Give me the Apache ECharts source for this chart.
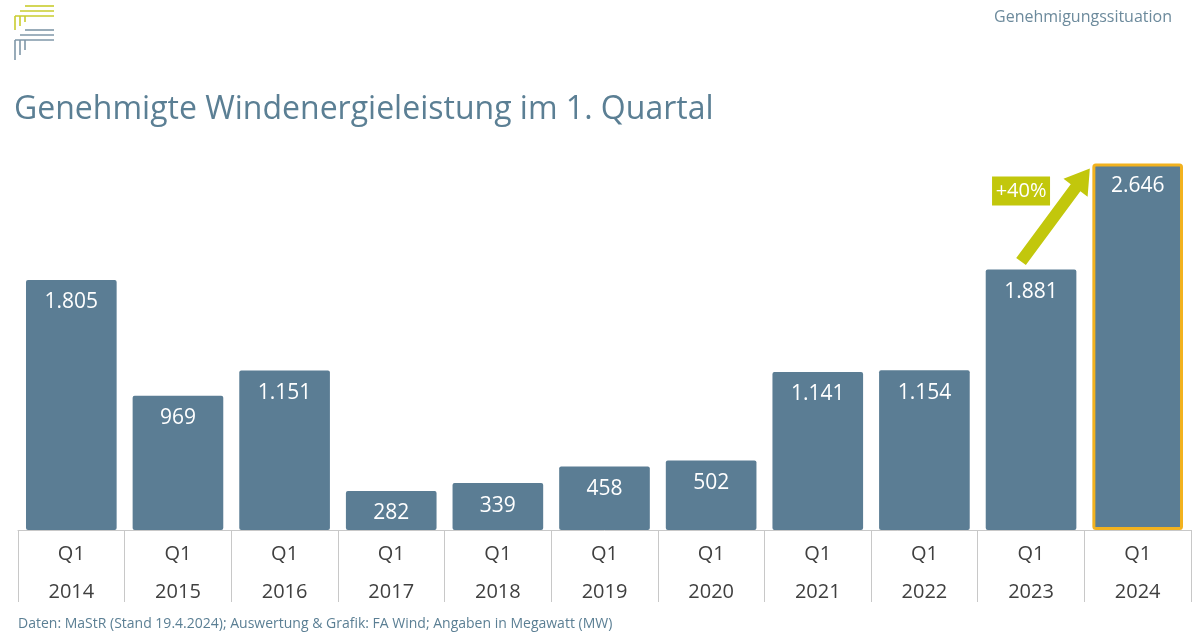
<!DOCTYPE html>
<html>
<head>
<meta charset="utf-8">
<script src="https://cdn.jsdelivr.net/npm/echarts@6/dist/echarts.min.js"></script>
<style>
html,body{margin:0;padding:0;background:#fff;}
#c{width:1200px;height:634px;}
</style>
</head>
<body>
<div id="c"></div>
<script>
const quarters = ['Q1','Q1','Q1','Q1','Q1','Q1','Q1','Q1','Q1','Q1','Q1'];
const years = ['2014','2015','2016','2017','2018','2019','2020','2021','2022','2023','2024'];
const values = [1805, 969, 1151, 282, 339, 458, 502, 1141, 1154, 1881, 2646];
const highlightYear = '2024';
const changeLabel = '+40%';

const categories = years.map((y, i) => quarters[i] + '\n' + y);
const fmt = v => String(v).replace(/\B(?=(\d{3})+(?!\d))/g, '.');

const barColor = '#5b7d94';
const data = values.map((v, i) => years[i] === highlightYear
  ? {value: v, itemStyle: {color: barColor, borderColor: '#f2b21f', borderWidth: 3}}
  : v);

const chart = echarts.init(document.getElementById('c'));
const font = 'Open Sans, Lato, sans-serif';

function logoLines() {
  const yel = '#c9cc2e', blu = '#7f97a8';
  const L = [];
  const seg = (x1,y1,x2,y2,c) => L.push({type:'line', shape:{x1,y1,x2,y2}, style:{stroke:c, lineWidth:1.6}, silent:true});
  // yellow
  seg(25,6,54,6,yel); seg(20,11,54,11,yel); seg(15,16,54,16,yel);
  seg(15,16,15,30,yel); seg(20,16,20,26,yel); seg(25,16,25,22,yel);
  // blue
  seg(25,30,54,30,blu); seg(20,35,54,35,blu); seg(15,40,54,40,blu);
  seg(15,40,15,60,blu); seg(20,40,20,55,blu); seg(25,40,25,50,blu);
  return L;
}

chart.setOption({
  animation: false,
  textStyle: {fontFamily: font},
  title: [
    {text: 'Genehmigte Windenergieleistung im 1. Quartal', left: 9, top: 89,
     textStyle: {fontSize: 32, fontWeight: 'normal', color: '#5b7f94', fontFamily: font}},
    {text: 'Genehmigungssituation', right: 23, top: 4,
     textStyle: {fontSize: 16, fontWeight: 'normal', color: '#6c8a9c', fontFamily: font}},
    {text: 'Daten: MaStR (Stand 19.4.2024); Auswertung & Grafik: FA Wind; Angaben in Megawatt (MW)', left: 13, top: 612,
     textStyle: {fontSize: 14, fontWeight: 'normal', color: '#5b7f94', fontFamily: font}}
  ],
  grid: {left: 18, right: 9, top: 156, bottom: 104, containLabel: false},
  xAxis: {
    type: 'category',
    data: categories,
    axisLine: {show: true, lineStyle: {color: '#c8c8c8', width: 1}},
    axisTick: {show: true, interval: 0, length: 72, lineStyle: {color: '#c8c8c8', width: 1}},
    axisLabel: {interval: 0, color: '#404040', fontSize: 20, lineHeight: 38, margin: 5, fontFamily: font}
  },
  yAxis: {type: 'value', min: 0, max: 2700, show: false, splitLine: {show: false}},
  series: [{
    type: 'bar',
    data: data,
    barWidth: '85%',
    itemStyle: {color: barColor, borderRadius: 2},
    label: {show: true, position: 'insideTop', distance: 12, color: '#ffffff', fontSize: 21,
            fontFamily: font, formatter: p => fmt(p.value)}
  }],
  graphic: logoLines()
});

// Arrow annotation, positioned from data via the chart's scales
const iFrom = years.length - 2, iTo = years.length - 1;
const pFrom = chart.convertToPixel({seriesIndex: 0}, [iFrom, values[iFrom]]);
const pTo = chart.convertToPixel({seriesIndex: 0}, [iTo, values[iTo]]);
const bandW = chart.convertToPixel({xAxisIndex: 0}, iTo) - chart.convertToPixel({xAxisIndex: 0}, iFrom);
const sx = pFrom[0] - 10, sy = pFrom[1] - 8;
const ex = pTo[0] - bandW * 0.43 - 2, ey = pTo[1] + 5;
const dx = ex - sx, dy = ey - sy, len = Math.hypot(dx, dy);
const ux = dx / len, uy = dy / len, nx = -uy, ny = ux;
const hw = 6, headW = 15, headL = 24;
const bx = ex - ux * headL, by = ey - uy * headL;
const pts = [
  [sx + nx*hw, sy + ny*hw], [bx + nx*hw, by + ny*hw], [bx + nx*headW, by + ny*headW],
  [ex, ey], [bx - nx*headW, by - ny*headW], [bx - nx*hw, by - ny*hw], [sx - nx*hw, sy - ny*hw]
];
const arrowColor = '#c2c70c';
const lx = pFrom[0] - 10, ly = pTo[1] + 27;
chart.setOption({
  graphic: logoLines().concat([
    {type: 'polygon', shape: {points: pts}, style: {fill: arrowColor}, silent: true, z: 10},
    {type: 'rect', shape: {x: lx - 29, y: ly - 14, width: 58, height: 29}, style: {fill: arrowColor}, z: 11, silent: true},
    {type: 'text', x: lx, y: ly + 1, style: {text: changeLabel, fill: '#ffffff', fontSize: 20, fontFamily: font,
      align: 'center', verticalAlign: 'middle'}, z: 12, silent: true}
  ])
});
</script>
</body>
</html>
